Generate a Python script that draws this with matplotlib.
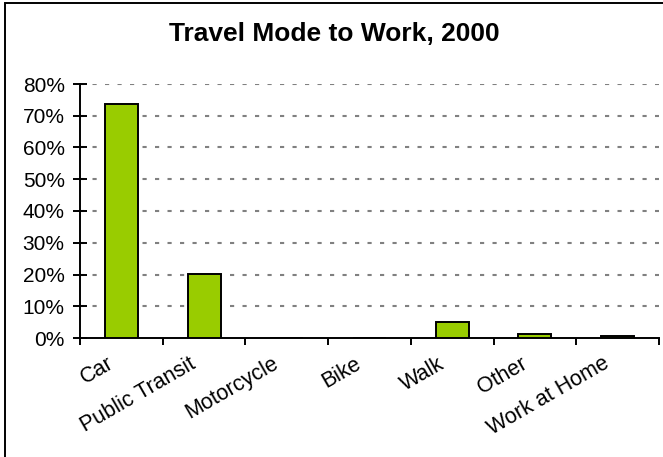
import matplotlib
matplotlib.use("Agg")
import matplotlib.pyplot as plt
from matplotlib.ticker import PercentFormatter, MultipleLocator
from matplotlib.patches import Rectangle

# Travel mode shares (percent of workers)
modes = ["Car", "Public Transit", "Motorcycle", "Bike", "Walk", "Other", "Work at Home"]
share = [73.8, 20.1, 0.0, 0.0, 5.0, 1.2, 0.6]

plt.rcParams['font.family'] = ['Liberation Sans', 'DejaVu Sans']

fig = plt.figure(figsize=(6.63, 4.57), dpi=100)
ax = fig.add_axes([80 / 663, 1 - 338 / 457, 579 / 663, 254 / 457])

x = range(len(modes))
ax.bar(x, share, width=0.4, color="#99cc00", edgecolor="black", linewidth=1.4, zorder=3)

ax.set_xlim(-0.5, len(modes) - 0.5)
ax.set_ylim(0, 80)
ax.yaxis.set_major_locator(MultipleLocator(10))
ax.yaxis.set_major_formatter(PercentFormatter(decimals=0))

# gridlines (dashed grey), not on the baseline
for v in range(10, 81, 10):
    ax.axhline(v, color="#808080", linestyle=(0, (2, 4)), linewidth=1.5, zorder=1)

# category boundary ticks on x
ax.set_xticks([i - 0.5 for i in range(len(modes) + 1)])
ax.set_xticklabels([])
ax.tick_params(axis="x", direction="out", length=5, width=1.4)
ax.tick_params(axis="y", direction="inout", length=10, width=1.4, labelsize=15, pad=6)

for i, name in enumerate(modes):
    ax.text(i - 0.18, -4.8, name, rotation=30, ha="right", va="top",
            rotation_mode="anchor", fontsize=15.5)

for s in ["top", "right"]:
    ax.spines[s].set_visible(False)
for s in ["left", "bottom"]:
    ax.spines[s].set_linewidth(1.4)

fig.text(334 / 663, 1 - 34 / 457, "Travel Mode to Work, 2000", ha="center", va="center",
         fontsize=19, fontweight="bold")

# chart border
fig.patches.append(Rectangle((5 / 663, -0.1), 1.2, 1 - 3 / 457 + 0.1, transform=fig.transFigure,
                             fill=False, edgecolor="black", linewidth=1.4))

fig.savefig("out.png", dpi=100)
